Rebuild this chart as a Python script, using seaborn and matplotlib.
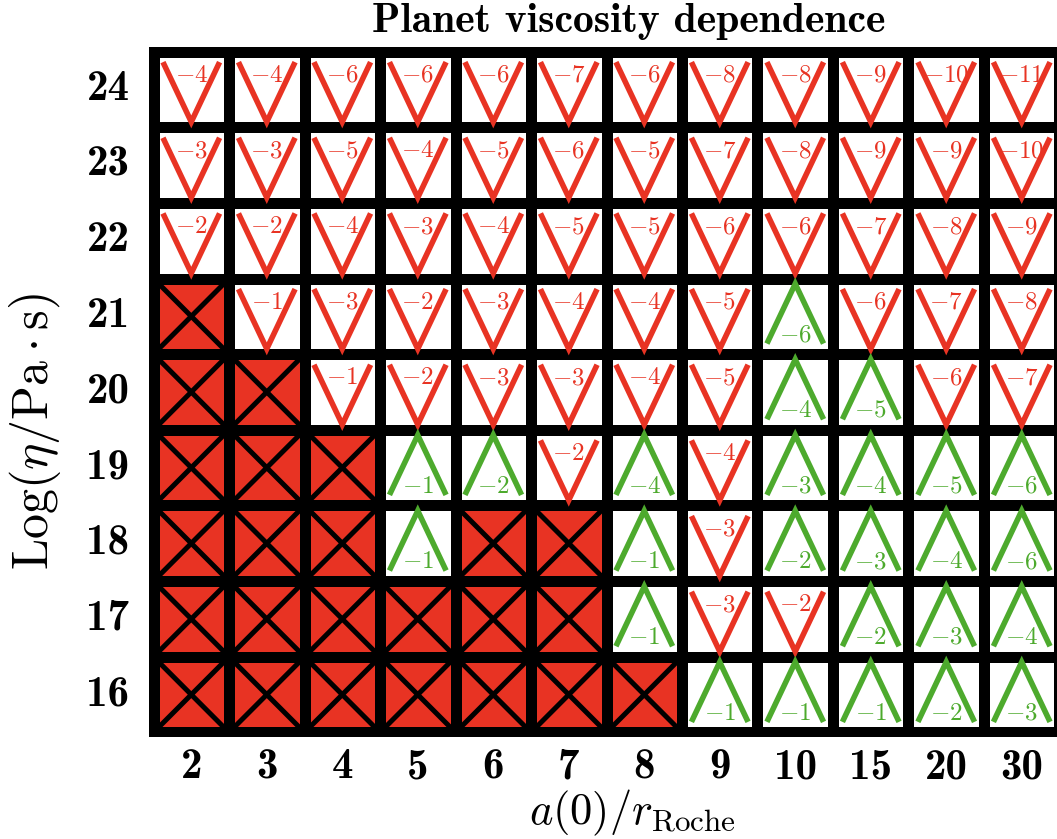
import numpy as np
import pandas as pd
import matplotlib
matplotlib.use("Agg")
import matplotlib.pyplot as plt
from matplotlib.colors import ListedColormap
import seaborn as sns

# ---------------- data ----------------
a_ratio = ['2', '3', '4', '5', '6', '7', '8', '9', '10', '15', '20', '30']
log_eta = [24, 23, 22, 21, 20, 19, 18, 17, 16]

# X = disrupted, V = decreasing (red), A = increasing (green)
kind_24 = "VVVVVVVVVVVV"
kind_23 = "VVVVVVVVVVVV"
kind_22 = "VVVVVVVVVVVV"
kind_21 = "XVVVVVVVAVVV"
kind_20 = "XXVVVVVVAAVV"
kind_19 = "XXXAAVAVAAAA"
kind_18 = "XXXAXXAVAAAA"
kind_17 = "XXXXXXAVVAAA"
kind_16 = "XXXXXXXAAAAA"

val_24 = [-4, -4, -6, -6, -6, -7, -6, -8, -8, -9, -10, -11]
val_23 = [-3, -3, -5, -4, -5, -6, -5, -7, -8, -9, -9, -10]
val_22 = [-2, -2, -4, -3, -4, -5, -5, -6, -6, -7, -8, -9]
val_21 = [None, -1, -3, -2, -3, -4, -4, -5, -6, -6, -7, -8]
val_20 = [None, None, -1, -2, -3, -3, -4, -5, -4, -5, -6, -7]
val_19 = [None, None, None, -1, -2, -2, -4, -4, -3, -4, -5, -6]
val_18 = [None, None, None, -1, None, None, -1, -3, -2, -3, -4, -6]
val_17 = [None, None, None, None, None, None, -1, -3, -2, -2, -3, -4]
val_16 = [None, None, None, None, None, None, None, -1, -1, -1, -2, -3]

kinds = [kind_24, kind_23, kind_22, kind_21, kind_20, kind_19, kind_18, kind_17, kind_16]
vals = [val_24, val_23, val_22, val_21, val_20, val_19, val_18, val_17, val_16]

# ---------------- style ----------------
RED = '#E83323'
GREEN = '#4DAA2D'
plt.rcParams['mathtext.fontset'] = 'cm'

fill = pd.DataFrame([[1 if c == 'X' else 0 for c in k] for k in kinds],
                    index=log_eta, columns=a_ratio)

fig = plt.figure(figsize=(10.57, 8.39), dpi=100)
ax = fig.add_axes([149 / 1057, 102 / 839, 915 / 1057, 690 / 839])
ax.set_facecolor('black')

sns.heatmap(fill, cmap=ListedColormap(['white', RED]), vmin=0, vmax=1,
            linewidths=6.5, linecolor='black', cbar=False, ax=ax)

pad = 0.06
ax.set_xlim(-pad, len(a_ratio) + pad)
ax.set_ylim(len(log_eta) + pad, -pad)

for i, (k, v) in enumerate(zip(kinds, vals)):
    for j, (c, n) in enumerate(zip(k, v)):
        if c == 'X':
            ax.plot([j, j + 1], [i, i + 1], color='black', lw=3.6, solid_capstyle='butt')
            ax.plot([j, j + 1], [i + 1, i], color='black', lw=3.6, solid_capstyle='butt')
        elif c == 'V':
            ax.plot([j + 0.125, j + 0.5, j + 0.875], [i + 0.14, i + 0.93, i + 0.14],
                    color=RED, lw=4.0, solid_capstyle='butt', solid_joinstyle='miter')
            ax.text(j + 0.5, i + 0.40, r'$%d$' % n, ha='center', va='baseline',
                    color=RED, fontsize=18)
        else:
            ax.plot([j + 0.125, j + 0.5, j + 0.875], [i + 0.86, i + 0.07, i + 0.86],
                    color=GREEN, lw=4.0, solid_capstyle='butt', solid_joinstyle='miter')
            ax.text(j + 0.5, i + 0.83, r'$%d$' % n, ha='center', va='baseline',
                    color=GREEN, fontsize=18)

ax.set_xticks(np.arange(len(a_ratio)) + 0.5)
ax.set_xticklabels(a_ratio, rotation=0, fontsize=31, family='cmb10')
ax.set_yticks(np.arange(len(log_eta)) + 0.5)
ax.set_yticklabels([str(s) for s in log_eta], rotation=0, fontsize=31, family='cmb10')
ax.tick_params(axis='both', length=0)
ax.tick_params(axis='x', pad=8)
ax.tick_params(axis='y', pad=14)
ax.set_xlabel('')
ax.set_ylabel('')

fig.text(632 / 1057, 1 - 824 / 839, r'$a(0)/r_{\mathrm{Roche}}$', fontsize=32,
         ha='center', va='baseline')
fig.text(35 / 1057, 1 - 431 / 839, r'$\mathrm{Log}(\eta/\mathrm{Pa}\cdot\mathrm{s})$',
         fontsize=36, rotation=90, ha='center', va='center')

fig.text(629 / 1057, 1 - 32 / 839, 'Planet viscosity dependence', ha='center',
         va='baseline', fontsize=30, family='cmb10')

fig.savefig('out.png', dpi=100)
